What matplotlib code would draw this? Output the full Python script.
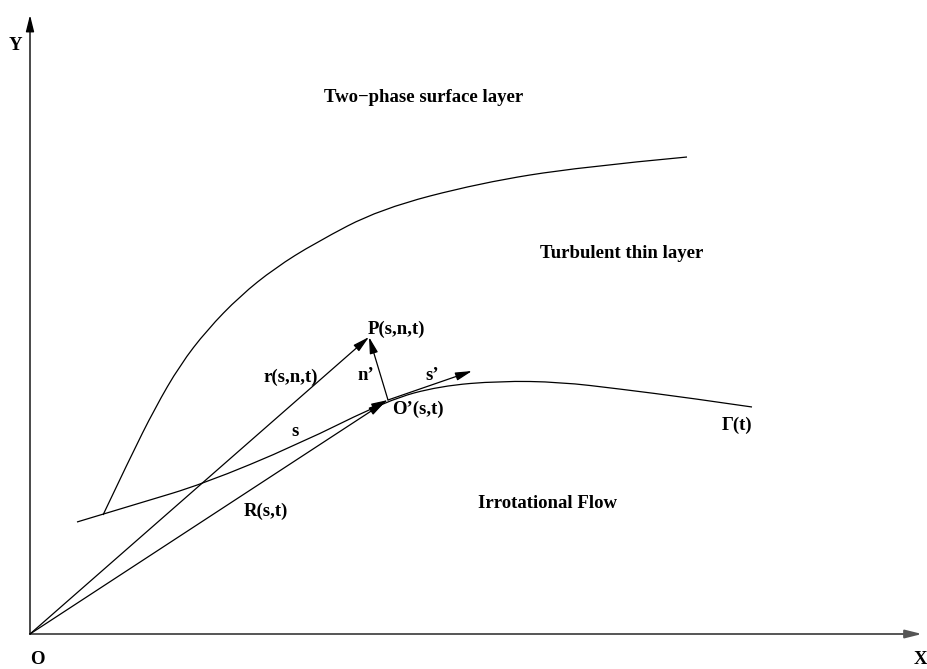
import matplotlib
matplotlib.use("Agg")
import matplotlib.pyplot as plt
from matplotlib.path import Path
from matplotlib.patches import PathPatch, FancyArrowPatch

# points, in pixel coords (y down)
origin = (30, 634)
x_axis_end = (922, 634)
y_axis_end = (30, 15)

# lower curve Gamma(t), the "s" arc ends at O'
gamma_x = [77, 140, 203, 297, 388, 440, 500, 560, 620, 690, 752]
gamma_y = [522, 503, 484, 445, 400, 386, 381, 382, 389, 398, 407]

# upper curve (edge of the turbulent thin layer)
upper_x = [103, 130, 155, 180, 207, 240, 275, 315, 380, 480, 580, 687]
upper_y = [515, 458, 408, 365, 330, 296, 268, 243, 209, 183, 167, 157]

O_prime = (388, 400)
P_point = (369, 337)
s_prime_tip = (472, 371)

labels = [
    ("Y", 15, 45), ("O", 37, 659), ("X", 920, 660),
    ("Two\u2212phase surface layer", 424, 97),
    ("Turbulent thin layer", 622, 253),
    ("P(s,n,t)", 396, 329),
    ("r(s,n,t)", 291, 377),
    ("n\u2019", 366, 376),
    ("s\u2019", 432, 376),
    ("O\u2019(s,t)", 418, 409),
    ("s", 295, 432),
    ("R(s,t)", 266, 511),
    ("Irrotational Flow", 548, 503),
    ("\u0393(t)", 737, 425),
]


def smooth_path(xs, ys):
    # quadratic b-spline style path through the read points
    pts = list(zip(xs, ys))
    verts = [pts[0]]
    codes = [Path.MOVETO]
    for i in range(1, len(pts) - 2):
        mid = ((pts[i][0] + pts[i + 1][0]) / 2, (pts[i][1] + pts[i + 1][1]) / 2)
        verts += [pts[i], mid]
        codes += [Path.CURVE3, Path.CURVE3]
    verts += [pts[-2], pts[-1]]
    codes += [Path.CURVE3, Path.CURVE3]
    return Path(verts, codes)


def arrow(ax, a, b, color="black", lw=0.9):
    ax.add_patch(FancyArrowPatch(a, b, arrowstyle="-|>,head_length=1.0,head_width=0.25",
                                 mutation_scale=10, shrinkA=0, shrinkB=0,
                                 color=color, lw=lw))


fig = plt.figure(figsize=(9.27, 6.69), dpi=100)
ax = fig.add_axes([0, 0, 1, 1])
ax.set_xlim(0, 927)
ax.set_ylim(669, 0)
ax.axis("off")

# axes
arrow(ax, origin, x_axis_end, color="#555555", lw=1.4)
arrow(ax, origin, y_axis_end, lw=1.0)

# curves
ax.add_patch(PathPatch(smooth_path(gamma_x, gamma_y), fill=False, lw=0.9, color="black"))
ax.add_patch(PathPatch(smooth_path(upper_x, upper_y), fill=False, lw=0.9, color="black"))

# arrowhead on the s arc at O'
i = gamma_x.index(O_prime[0])
back = (gamma_x[i] - 0.15 * (gamma_x[i] - gamma_x[i - 1]),
        gamma_y[i] - 0.15 * (gamma_y[i] - gamma_y[i - 1]))
arrow(ax, back, O_prime)

# vectors
arrow(ax, origin, P_point)
arrow(ax, origin, (O_prime[0] - 3, O_prime[1] + 2))
arrow(ax, O_prime, P_point)
arrow(ax, O_prime, s_prime_tip)

for txt, x, y in labels:
    ax.text(x, y, txt, ha="center", va="center", fontsize=13.5,
            fontfamily="Liberation Serif", fontweight="bold")

fig.savefig("out.png", dpi=100)
